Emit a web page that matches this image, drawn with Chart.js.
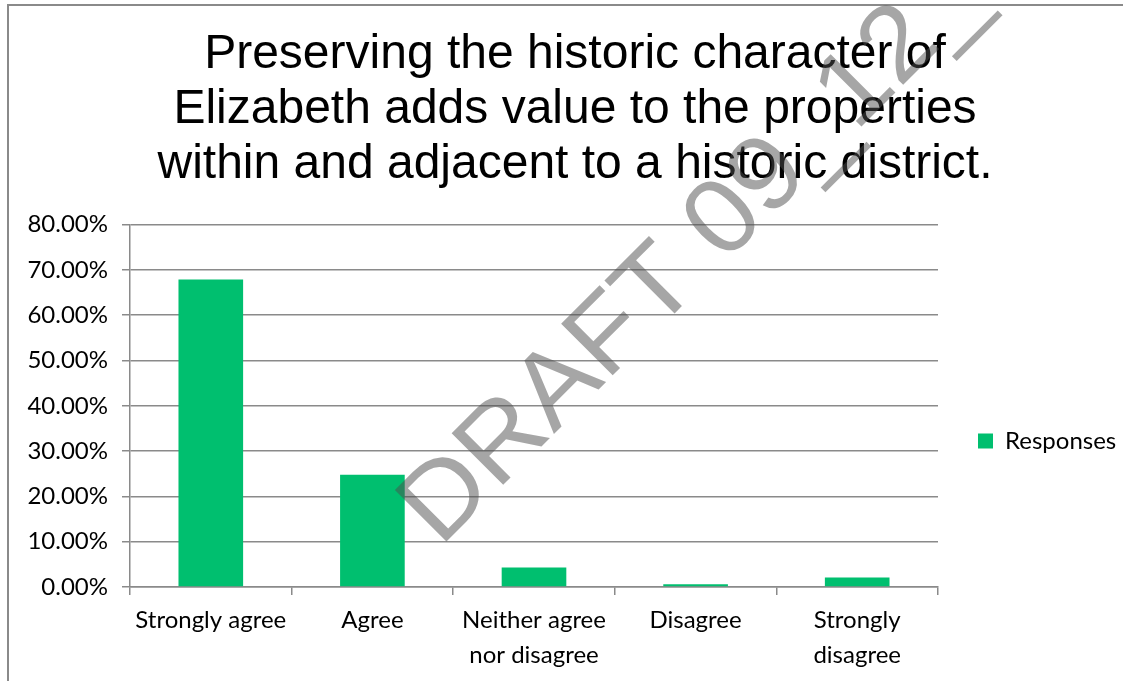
<!DOCTYPE html>
<html>
<head>
<meta charset="utf-8">
<script src="https://cdn.jsdelivr.net/npm/chart.js@4.4.1/dist/chart.umd.min.js"></script>
<style>
  html, body { margin: 0; padding: 0; background: #ffffff; }
  #wrap { width: 1123px; height: 681px; position: relative; }
</style>
</head>
<body>
<div id="wrap"><canvas id="c" width="1123" height="681"></canvas></div>
<script>
// ---- data ----
const categories = ['Strongly agree', 'Agree', ['Neither agree', 'nor disagree'], 'Disagree', ['Strongly', 'disagree']];
const responses = [67.9, 24.8, 4.3, 0.6, 2.1];
const seriesName = 'Responses';
const titleLines = ['Preserving the historic character of', 'Elizabeth adds value to the properties', 'within and adjacent to a historic district.'];
const yTicks = [0, 10, 20, 30, 40, 50, 60, 70, 80];
const watermarkText = 'DRAFT 09_12_19';

const GREEN = '#00BF6F';
const GRID = '#8a8a8a';
const TICK_FONT = { family: 'Lato', size: 24 };

const framePlugin = {
  id: 'frame',
  beforeDraw(chart) {
    const ctx = chart.ctx;
    ctx.save();
    ctx.fillStyle = '#ffffff';
    ctx.fillRect(0, 0, chart.width, chart.height);
    ctx.strokeStyle = '#8a8a8a';
    ctx.lineWidth = 2;
    ctx.beginPath();
    ctx.moveTo(8, chart.height + 5);
    ctx.lineTo(8, 5);
    ctx.lineTo(chart.width + 5, 5);
    ctx.stroke();
    ctx.restore();
  }
};

const legendPlace = {
  id: 'legendPlace',
  beforeLayout(chart) {
    const lg = chart.legend;
    if (lg && !lg.__patched) {
      const f = lg.fit.bind(lg);
      lg.fit = function () { f(); this.width = 185; };
      lg.__patched = true;
    }
  },
  afterLayout(chart) {
    const lg = chart.legend;
    if (!lg) return;
    lg.left = 978; lg.right = 1123;
    lg.top = 429; lg.bottom = 470;
  }
};

const watermark = {
  id: 'watermark',
  afterDraw(chart) {
    const ctx = chart.ctx;
    ctx.save();
    ctx.translate(440, 548);
    ctx.rotate(-Math.PI / 4);
    ctx.scale(1.05, 1);
    ctx.font = '106px "Liberation Sans", Arial, sans-serif';
    ctx.fillStyle = 'rgba(77,77,77,0.5)';
    ctx.textBaseline = 'alphabetic';
    ctx.fillText(watermarkText, 0, 0);
    ctx.restore();
  }
};

new Chart(document.getElementById('c'), {
  type: 'bar',
  data: {
    labels: categories,
    datasets: [{
      label: seriesName,
      data: responses,
      backgroundColor: GREEN,
      borderWidth: 0,
      categoryPercentage: 1.0,
      barPercentage: 0.4
    }]
  },
  options: {
    responsive: false,
    animation: false,
    devicePixelRatio: 1,
    layout: { padding: { left: 27, right: 0, top: 0, bottom: 0 } },
    plugins: {
      title: {
        display: true,
        text: titleLines,
        color: '#000000',
        font: { family: '"Liberation Sans", Arial, sans-serif', size: 48, weight: 'normal', lineHeight: 1.15 },
        padding: { top: 27, bottom: 32 }
      },
      legend: {
        display: true,
        position: 'right',
        align: 'start',
        labels: {
          boxWidth: 15,
          boxHeight: 15,
          padding: 0,
          color: '#000000',
          font: TICK_FONT
        }
      },
      tooltip: { enabled: false }
    },
    scales: {
      x: {
        afterFit(scale) { scale.height = 94; },
        grid: { display: true, drawOnChartArea: false, drawTicks: true, tickLength: 8, offset: true, color: GRID, lineWidth: 1.5 },
        border: { display: true, color: GRID, width: 1.5 },
        ticks: { color: '#000000', font: { family: 'Lato', size: 24, lineHeight: 1.46 }, padding: 8, maxRotation: 0, autoSkip: false }
      },
      y: {
        min: 0,
        max: 80,
        afterFit(scale) { scale.width = 103; },
        afterBuildTicks(scale) { scale.ticks = yTicks.map(v => ({ value: v })); },
        grid: { color: GRID, lineWidth: 1.5, tickLength: 8, drawTicks: true },
        border: { display: true, color: GRID, width: 1.5 },
        ticks: {
          color: '#000000',
          font: TICK_FONT,
          padding: 14,
          callback: v => v.toFixed(2) + '%'
        }
      }
    }
  },
  plugins: [framePlugin, legendPlace, watermark]
});
</script>
</body>
</html>
